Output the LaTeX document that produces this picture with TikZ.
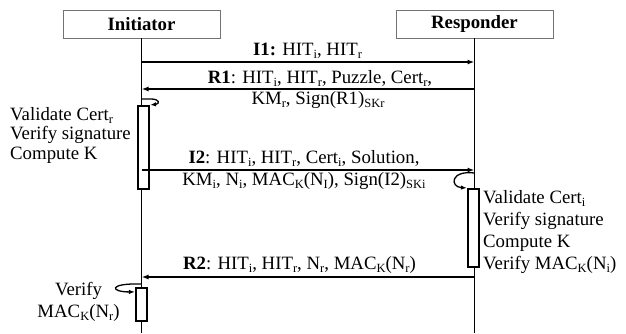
\documentclass[tikz,border=0pt]{standalone}
\usepackage{fontspec}
\setmainfont{Liberation Serif}
\usetikzlibrary{arrows.meta, calc, positioning}
\newcommand{\sbs}[1]{\raisebox{-0.35ex}{\fontsize{12.5}{12.5}\selectfont #1}}

\begin{document}
\begin{tikzpicture}[x=1pt, y=-1pt,
    every node/.style={font=\fontsize{18.8}{19.5}\selectfont, inner sep=0pt},
    party/.style={draw=black!55, line width=0.9pt, minimum width=157pt, minimum height=28pt},
    actbox/.style={draw, line width=2.2pt, fill=white, minimum width=11pt},
    msg/.style={-{Latex[length=7pt,width=5pt]}, line width=1.6pt},
    selfarrow/.style={-{Latex[length=6pt,width=4.5pt]}, line width=1.3pt}]
    \useasboundingbox (0,0) rectangle (626,333);

    \node[party] (ini) at (141.5,24) {\textbf{Initiator}};
    \node[party] (res) at (474.5,24) {\textbf{Responder}};
    \coordinate (ini-end) at (141.5,333);
    \coordinate (res-end) at (474.5,333);
    \draw[line width=1.2pt] (ini) -- (ini-end) (res) -- (res-end);

    % activation bars
    \node[actbox, minimum height=83pt] (act1) at (143.5,147.5) {};
    \node[actbox, minimum height=78pt] (act2) at (473.5,228) {};
    \node[actbox, minimum height=33pt] (act3) at (141.5,304.5) {};

    % message end points on the lifelines
    \coordinate (i1-ini) at (141.5,62);   \coordinate (i1-res) at (474.5,62);
    \coordinate (r1-ini) at (141.5,89);   \coordinate (r1-res) at (474.5,89);
    \coordinate (i2-ini) at (141.5,170);  \coordinate (i2-res) at (474.5,170);
    \coordinate (r2-ini) at (141.5,277);  \coordinate (r2-res) at (474.5,277);

    \draw
    (i1-ini) edge[msg] (i1-res)
    (r1-res) edge[msg] (r1-ini)
    (i2-ini) edge[msg] (i2-res)
    (r2-res) edge[msg] (r2-ini);

    \node[anchor=base] (i1-lbl) at (307.5,55) {\textbf{I1:} HIT\sbs{i}, HIT\sbs{r}};
    \node[anchor=base] (r1-lbl) at (320,83) {\textbf{R1}: HIT\sbs{i}, HIT\sbs{r}, Puzzle, Cert\sbs{r},};
    \node[anchor=base] (r1-lbl2) at (318,104) {KM\sbs{r}, Sign(R1)\sbs{SKr}};
    \node[anchor=base] (i2-lbl) at (304,163) {\textbf{I2}: HIT\sbs{i}, HIT\sbs{r}, Cert\sbs{i}, Solution,};
    \node[anchor=base] (i2-lbl2) at (304,185) {KM\sbs{i}, N\sbs{i}, MAC\sbs{K}(N\sbs{I}), Sign(I2)\sbs{SKi}};
    \node[anchor=base] (r2-lbl) at (299.5,269) {\textbf{R2}: HIT\sbs{i}, HIT\sbs{r}, N\sbs{r}, MAC\sbs{K}(N\sbs{r})};

    % local processing
    \node[anchor=west, align=left] (ini-work) at (10,135)
        {Validate Cert\sbs{r}\\Verify signature\\Compute K};
    \node[anchor=west, align=left, font=\fontsize{18.8}{22.3}\selectfont] (res-work) at (483,232)
        {Validate Cert\sbs{i}\\Verify signature\\Compute K\\Verify MAC\sbs{K}(N\sbs{i})};
    \node[align=center, font=\fontsize{18.8}{22}\selectfont] (ini-check) at (78.5,302)
        {Verify\\MAC\sbs{K}(N\sbs{r})};

    \coordinate (s1) at (141.5,99);
    \coordinate (s2) at (474.5,173);
    \coordinate (s3) at (141.5,284);
    \draw[selfarrow] (s1) -- (151,99) .. controls (160,99) and (160,104) .. (act1.north east);
    \draw[selfarrow] (s2) .. controls (450,170) and (450,187) .. (act2.north west);
    \draw[selfarrow] (s3) .. controls (108,283) and (110,292) .. ($(act3.north west)+(0,5)$);
\end{tikzpicture}
\end{document}
